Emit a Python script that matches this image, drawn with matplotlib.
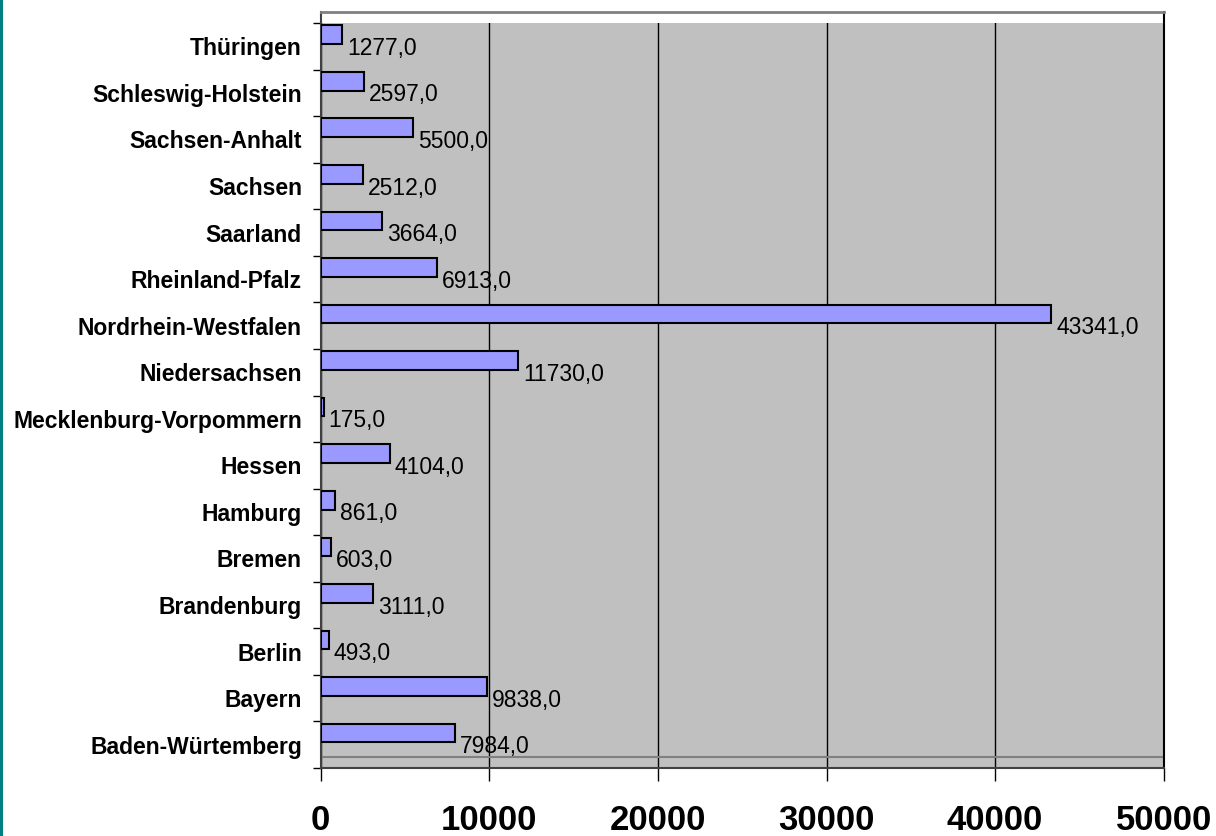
import matplotlib
matplotlib.use("Agg")
import matplotlib.pyplot as plt
from matplotlib.ticker import FixedLocator, NullFormatter
import matplotlib.lines as mlines

categories = ["Baden-Würtemberg", "Bayern", "Berlin", "Brandenburg", "Bremen",
              "Hamburg", "Hessen", "Mecklenburg-Vorpommern", "Niedersachsen",
              "Nordrhein-Westfalen", "Rheinland-Pfalz", "Saarland", "Sachsen",
              "Sachsen-Anhalt", "Schleswig-Holstein", "Thüringen"]
values = [7984.0, 9838.0, 493.0, 3111.0, 603.0, 861.0, 4104.0, 175.0, 11730.0,
          43341.0, 6913.0, 3664.0, 2512.0, 5500.0, 2597.0, 1277.0]
xticks = [0, 10000, 20000, 30000, 40000, 50000]

plt.rcParams['font.family'] = ['Liberation Sans', 'DejaVu Sans']

W, H = 1216, 836
fig = plt.figure(figsize=(W / 100, H / 100), dpi=100)
left, right, bottom, top = 320.7, 1163.7, 768, 12
ax = fig.add_axes([left / W, 1 - bottom / H, (right - left) / W, (bottom - top) / H])
ax.set_facecolor("#C0C0C0")

n = len(categories)
slot_px = (bottom - 23) / n
ytop = n - 0.5 + (23 - top) / slot_px
ax.set_xlim(0, 50000)
ax.set_ylim(-0.5, ytop)

# white band at top of the plot frame
ax.axhspan(n - 0.5, ytop, color="white", zorder=2, lw=0)
# floor line near bottom
ax.axhline(-0.5 + 11 / slot_px, color="#808080", lw=1.5, zorder=1)

ax.grid(axis="x", color="black", lw=1, zorder=1)
ax.set_axisbelow(True)

ypos = [i + 0.25 for i in range(n)]
ax.barh(ypos, values, height=0.4, color="#9999FF", edgecolor="black", lw=1.5, zorder=3)

for i, v in enumerate(values):
    ax.annotate(f"{v:.1f}".replace(".", ","), xy=(v, i), xytext=(3.5, -1.5),
                textcoords="offset points", ha="left", va="center",
                fontsize=16.5, color="black", zorder=4)

# ticks
ax.yaxis.set_major_locator(FixedLocator(list(range(n))))
ax.set_yticklabels(categories, fontsize=16.5, fontweight="bold")
ax.yaxis.set_minor_locator(FixedLocator([i - 0.5 for i in range(n + 1)]))
ax.yaxis.set_minor_formatter(NullFormatter())
ax.tick_params(axis="y", which="major", length=0, pad=13.5)
ax.tick_params(axis="y", which="minor", length=6, width=1, color="black")

ax.set_xticks(xticks)
ax.set_xticklabels([str(t) for t in xticks], fontsize=25, fontweight="bold")
ax.tick_params(axis="x", which="major", length=9, width=1, color="black", pad=17)

ax.spines["top"].set_color("#808080")
ax.spines["top"].set_linewidth(2)
ax.spines["right"].set_color("black")
ax.spines["right"].set_linewidth(1.5)
ax.spines["left"].set_color("#404040")
ax.spines["left"].set_linewidth(1.5)
ax.spines["bottom"].set_color("#404040")
ax.spines["bottom"].set_linewidth(1.5)

# teal border line at left edge of figure
fig.add_artist(mlines.Line2D([1 / W, 1 / W], [0, 1], color="#008080", lw=2.2,
                             transform=fig.transFigure))

fig.savefig("out.png", dpi=100)
